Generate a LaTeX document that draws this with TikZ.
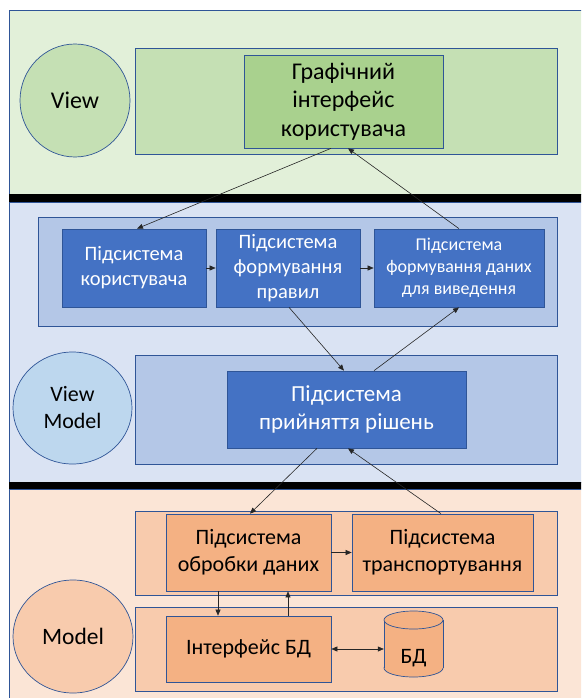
\documentclass[tikz,border=0pt]{standalone}
\usepackage{fontspec}
\setmainfont{Carlito}
\usetikzlibrary{arrows.meta,shapes.geometric}
\definecolor{gOut}{HTML}{E2F0D9}
\definecolor{gIn}{HTML}{C5E0B4}
\definecolor{gBox}{HTML}{A9D18E}
\definecolor{bOut}{HTML}{DAE3F3}
\definecolor{bIn}{HTML}{B4C7E7}
\definecolor{bBox}{HTML}{4472C4}
\definecolor{bCirc}{HTML}{BDD7EE}
\definecolor{pOut}{HTML}{FBE5D6}
\definecolor{pIn}{HTML}{F8CBAD}
\definecolor{pBox}{HTML}{F4B183}
\definecolor{bord}{HTML}{2F5597}
\newcommand\myfs[2]{\fontsize{#1}{#2}\selectfont}
\begin{document}
\begin{tikzpicture}[x=1pt,y=-1pt,
  panel/.style={draw=bord, line width=0.7pt, inner sep=0pt},
  box/.style={draw=bord, line width=0.7pt, inner sep=0pt, align=center},
  bluebox/.style={box, fill=bBox, text=white},
  circ/.style={ellipse, draw=bord, line width=0.7pt, inner sep=0pt, align=center},
  conn/.style={-{Triangle[length=6pt,width=5pt]}, line width=0.6pt, draw=black!85},
  dconn/.style={{Triangle[length=6pt,width=5pt]}-{Triangle[length=6pt,width=5pt]}, line width=0.6pt, draw=black!85}]
\useasboundingbox (0,0) rectangle (581,698);
\clip (0,0) rectangle (581,698);
\fill[white] (0,0) rectangle (581,698);
% layer backgrounds
\filldraw[fill=gOut, draw=bord, line width=0.7pt] (9,10) rectangle (600,194);
\filldraw[fill=bOut, draw=bord, line width=0.7pt] (9,202) rectangle (600,482);
\filldraw[fill=pOut, draw=bord, line width=0.7pt] (9,489) rectangle (600,710);
\fill[black] (9,194) rectangle (600,202);
\fill[black] (9,482) rectangle (600,489);
% View layer
\node[circ, fill=gIn, minimum width=110pt, minimum height=113pt, font=\myfs{24}{29}] (view) at (75,100.5) {View};
\node[panel, fill=gIn, minimum width=422pt, minimum height=106pt] (gpan) at (346,101) {};
\node[box, fill=gBox, minimum width=199pt, minimum height=93pt, font=\myfs{24}{28.5}] (gui) at (343.5,101.5) {Графічний\\інтерфейс\\користувача};
% ViewModel layer
\node[panel, fill=bIn, minimum width=519pt, minimum height=109pt] (bpan1) at (297.5,271.5) {};
\node[bluebox, minimum width=144pt, minimum height=78pt, font=\myfs{20.5}{25}] (A) at (134,268) {Підсистема\\користувача};
\node[bluebox, minimum width=144pt, minimum height=78pt, font=\myfs{20.5}{25}] (B) at (288,268) {Підсистема\\формування\\правил};
\node[bluebox, minimum width=170pt, minimum height=78pt, font=\myfs{18}{22}] (C) at (459,268) {Підсистема\\формування даних\\для виведення};
\node[circ, fill=bCirc, minimum width=119pt, minimum height=112pt, font=\myfs{22}{27}] (vm) at (72.5,408) {View\\Model};
\node[panel, fill=bIn, minimum width=422pt, minimum height=109pt] (bpan2) at (346,409.5) {};
\node[bluebox, minimum width=239pt, minimum height=77pt, font=\myfs{23}{28}] (D) at (346.5,409.5) {Підсистема\\прийняття рішень};
% Model layer
\node[panel, fill=pIn, minimum width=422pt, minimum height=84pt] (ppan1) at (346,553) {};
\node[box, fill=pBox, minimum width=165pt, minimum height=77pt, font=\myfs{22}{27}] (E) at (248.5,552.5) {Підсистема\\обробки даних};
\node[box, fill=pBox, minimum width=181pt, minimum height=77pt, font=\myfs{22}{27}] (F) at (442.5,552.5) {Підсистема\\транспортування};
\node[panel, fill=pIn, minimum width=422pt, minimum height=84pt] (ppan2) at (346,649) {};
\node[box, fill=pBox, minimum width=165pt, minimum height=66pt, font=\myfs{22}{27}] (G) at (248.5,649) {Інтерфейс БД};
\node[circ, fill=pIn, minimum width=120pt, minimum height=113pt, font=\myfs{23.5}{28}] (model) at (73,636.5) {Model};
% database cylinder
\filldraw[fill=pBox, draw=bord, line width=0.7pt] (413.5,668) ellipse [x radius=29.5, y radius=9];
\fill[pBox] (384,620) rectangle (443,668);
\draw[bord, line width=0.7pt] (384,620) -- (384,668) (443,620) -- (443,668);
\filldraw[fill=pBox, draw=bord, line width=0.7pt] (413.5,620) ellipse [x radius=29.5, y radius=9];
\node[inner sep=0pt, minimum width=59pt, minimum height=66pt] (db) at (413.5,644) {};
\node[inner sep=0pt, font=\myfs{22}{27}] (dbtext) at (413.5,658) {БД};
% connectors
\draw[conn] ([xshift=-12.5pt]gui.south) -- ([xshift=3pt]A.north);
\draw[conn] (C.north) -- ([xshift=4.5pt]gui.south);
\draw[conn] (A.east) -- (B.west);
\draw[conn] (B.east) -- (C.west);
\draw[conn] ([xshift=1pt]B.south) -- ([xshift=-2.5pt]D.north);
\draw[conn] ([xshift=27.5pt]D.north) -- (C.south);
\draw[conn] ([xshift=-29.5pt]D.south) -- ([xshift=1.5pt]E.north);
\draw[conn] ([xshift=-1.5pt]F.north) -- ([xshift=1.5pt]D.south);
\draw[conn] (E.east) -- (F.west);
\draw[conn] ([xshift=-30.5pt]E.south) -- ([xshift=-30.5pt]G.north);
\draw[conn] ([xshift=39.5pt]G.north) -- ([xshift=39.5pt]E.south);
\draw[dconn] (G.east) -- (G.east -| db.west);
\end{tikzpicture}
\end{document}
